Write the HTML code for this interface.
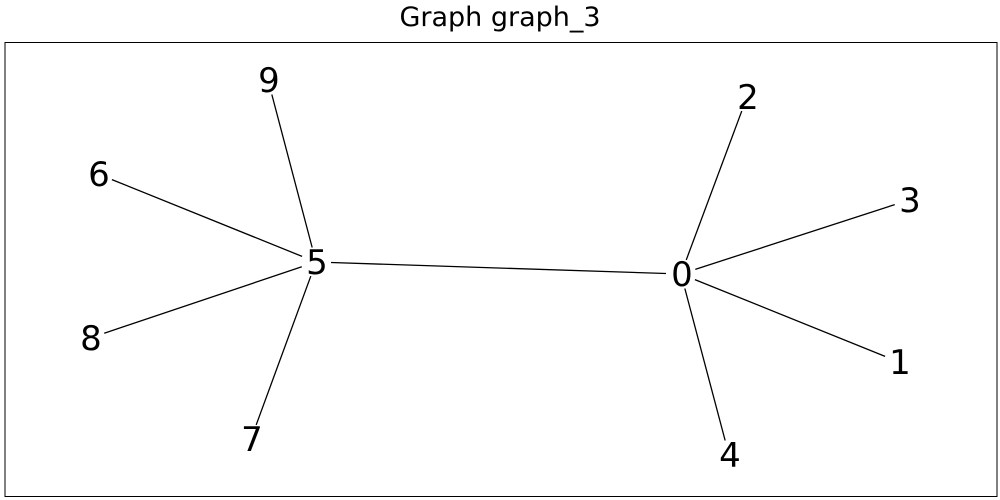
<!DOCTYPE html>
<html><head><meta charset="utf-8"><style>
html,body{margin:0;padding:0;background:#fff;width:1000px;height:500px;overflow:hidden}
</style></head><body>
<svg id="chart" width="1000" height="500" xmlns="http://www.w3.org/2000/svg">
<text x="500" y="26" text-anchor="middle" font-family="DejaVu Sans, Liberation Sans, sans-serif" font-size="27" fill="#000">Graph graph_3</text>
<rect x="5" y="42.5" width="992" height="454" fill="none" stroke="#000" stroke-width="1"/>
<g id="edges"></g><g id="nodes"></g>
</svg>
<script>
const nodeIds = ["0","1","2","3","4","5","6","7","8","9"];
const nodeX = [0.681,0.899,0.747,0.909,0.729,0.316,0.098,0.251,0.090,0.268];
const nodeY = [0.274,0.362,0.097,0.200,0.455,0.262,0.174,0.439,0.338,0.080];
const edgeFrom = ["5","5","5","5","5","0","0","0","0"];
const edgeTo   = ["0","9","6","8","7","2","3","1","4"];
function sx(v){return v*1000;}
function sy(v){return v*1000;}
const ns="http://www.w3.org/2000/svg";
const eg=document.getElementById('edges'), ng=document.getElementById('nodes');
function pos(id){const i=nodeIds.indexOf(id);return [sx(nodeX[i]),sy(nodeY[i])];}
for(let k=0;k<edgeFrom.length;k++){
  const [x1,y1]=pos(edgeFrom[k]),[x2,y2]=pos(edgeTo[k]);
  const dx=x2-x1,dy=y2-y1,L=Math.hypot(dx,dy),s=15;
  const l=document.createElementNS(ns,'line');
  l.setAttribute('x1',x1+dx/L*s);l.setAttribute('y1',y1+dy/L*s);
  l.setAttribute('x2',x2-dx/L*s);l.setAttribute('y2',y2-dy/L*s);
  l.setAttribute('stroke','#000');l.setAttribute('stroke-width','1.3');
  
  
  eg.appendChild(l);
}
for(let i=0;i<nodeIds.length;i++){
  const t=document.createElementNS(ns,'text');
  t.setAttribute('x',sx(nodeX[i])+1);t.setAttribute('y',sy(nodeY[i])+12);
  t.setAttribute('text-anchor','middle');
  t.setAttribute('font-family','DejaVu Sans, Liberation Sans, sans-serif');
  t.setAttribute('font-size','34');
  t.textContent=nodeIds[i];
  
  
  ng.appendChild(t);
}
</script>
</body></html>
